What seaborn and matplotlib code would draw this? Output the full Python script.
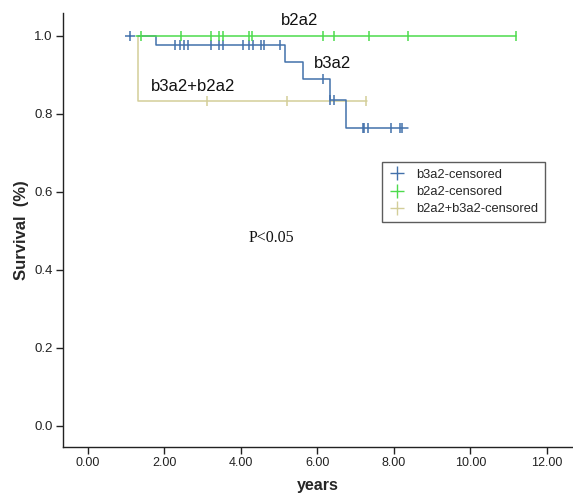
import numpy as np
import pandas as pd
import matplotlib
matplotlib.use("Agg")
import matplotlib.pyplot as plt
from matplotlib.lines import Line2D
import seaborn as sns

sns.set_style("ticks")
plt.rcParams["font.family"] = ["Liberation Sans", "DejaVu Sans"]

# ---- data ----
groups = ["b3a2", "b2a2", "b3a2+b2a2"]
legend_labels = ["b3a2-censored", "b2a2-censored", "b2a2+b3a2-censored"]

b3a2_time = [1.30, 1.79, 5.14, 5.63, 6.33, 6.75, 8.36]
b3a2_surv = [1.0, 0.977, 0.933, 0.889, 0.836, 0.764, 0.764]
b3a2_cens = [2.27, 2.42, 2.51, 2.62, 3.22, 3.43, 3.53, 4.05, 4.22, 4.32,
             4.52, 4.60, 5.02, 6.14, 6.33, 6.42, 7.20, 7.23, 7.33, 7.93,
             8.16, 8.22]
b3a2_first_cens = [1.10]

b2a2_time = [1.27, 11.19]
b2a2_surv = [1.0, 1.0]
b2a2_cens = [1.40, 2.43, 3.21, 3.42, 3.53, 4.21, 4.30, 6.14, 6.42, 7.34,
             8.36, 11.19]

mix_time = [1.30, 1.30, 7.30]
mix_surv = [1.0, 0.833, 0.833]
mix_cens = [3.11, 5.21, 7.26]

x_ticks = [0, 2, 4, 6, 8, 10, 12]
y_ticks = [0.0, 0.2, 0.4, 0.6, 0.8, 1.0]

colors = {"b3a2": "#4371ab", "b2a2": "#4ddb4d", "b3a2+b2a2": "#d3ce99"}


def level(times, survs, t):
    idx = np.searchsorted(np.asarray(times), t, side="right") - 1
    idx = np.clip(idx, 0, len(survs) - 1)
    return np.asarray(survs)[idx]


curves = pd.concat([
    pd.DataFrame({"t": b3a2_time, "s": b3a2_surv, "g": "b3a2"}),
    pd.DataFrame({"t": b2a2_time, "s": b2a2_surv, "g": "b2a2"}),
    pd.DataFrame({"t": mix_time, "s": mix_surv, "g": "b3a2+b2a2"}),
], ignore_index=True)

cens = pd.concat([
    pd.DataFrame({"t": b3a2_cens, "s": level(b3a2_time, b3a2_surv, b3a2_cens), "g": "b3a2"}),
    pd.DataFrame({"t": b2a2_cens, "s": level(b2a2_time, b2a2_surv, b2a2_cens), "g": "b2a2"}),
    pd.DataFrame({"t": mix_cens, "s": level(mix_time, mix_surv, mix_cens), "g": "b3a2+b2a2"}),
], ignore_index=True)

fig = plt.figure(figsize=(5.73, 4.95), dpi=100)
ax = fig.add_axes([0.110, 0.097, 0.890, 0.877])

order = ["b3a2+b2a2", "b3a2", "b2a2"]
for z, g in enumerate(order):
    sub = curves[curves.g == g]
    sns.lineplot(data=sub, x="t", y="s", ax=ax, color=colors[g], lw=1.1,
                 estimator=None, sort=False, drawstyle="steps-post",
                 legend=False, zorder=2 + z)
    csub = cens[cens.g == g]
    sns.scatterplot(data=csub, x="t", y="s", ax=ax, marker="|", s=45,
                    color=colors[g], linewidth=1.1, legend=False, zorder=2 + z)

first = pd.DataFrame({"t": b3a2_first_cens,
                      "s": [1.0] * len(b3a2_first_cens)})
sns.scatterplot(data=first, x="t", y="s", ax=ax, marker="+", s=45,
                color=colors["b3a2"], linewidth=1.1, legend=False, zorder=6)

ax.set_xlim(-0.65, 12.68)
ax.set_ylim(-0.054, 1.059)
ax.set_xticks(x_ticks)
ax.set_xticklabels([f"{v:.2f}" for v in x_ticks], fontsize=9)
ax.set_yticks(y_ticks)
ax.set_yticklabels([f"{v:.1f}" for v in y_ticks], fontsize=9.5)
ax.tick_params(direction="out", length=5, width=1, colors="#222222",
               labelcolor="#222222", pad=2.5)
for sp in ["top", "right"]:
    ax.spines[sp].set_visible(False)
for sp in ["left", "bottom"]:
    ax.spines[sp].set_color("#222222")
    ax.spines[sp].set_linewidth(1)

ax.set_xlabel("years", fontsize=11.5, fontweight="bold", labelpad=6.5)
ax.set_ylabel("Survival  (%)", fontsize=12, fontweight="bold", labelpad=4)

ax.text(5.53, 1.04, "b2a2", fontsize=12, ha="center", va="center", color="#111111")
ax.text(6.40, 0.928, "b3a2", fontsize=12, ha="center", va="center", color="#111111")
ax.text(2.74, 0.869, "b3a2+b2a2", fontsize=12, ha="center", va="center", color="#111111")
ax.text(4.80, 0.482, "P<0.05", fontsize=11.5, ha="center", va="center",
        family=["Liberation Serif", "DejaVu Serif"], color="#111111")

handles = [Line2D([], [], marker="+", ls="none", markersize=10, mew=1.0,
                  color=colors[g]) for g in groups]
leg = ax.legend(handles, legend_labels, loc="upper left", numpoints=1,
                bbox_to_anchor=(0.625, 0.657), borderaxespad=0,
                fontsize=9.3, frameon=True,
                fancybox=False, edgecolor="#333333", borderpad=0.55,
                handlelength=1.2, handletextpad=0.9, labelspacing=0.4)
leg.get_frame().set_linewidth(1.0)

fig.savefig("out.png", dpi=100)
